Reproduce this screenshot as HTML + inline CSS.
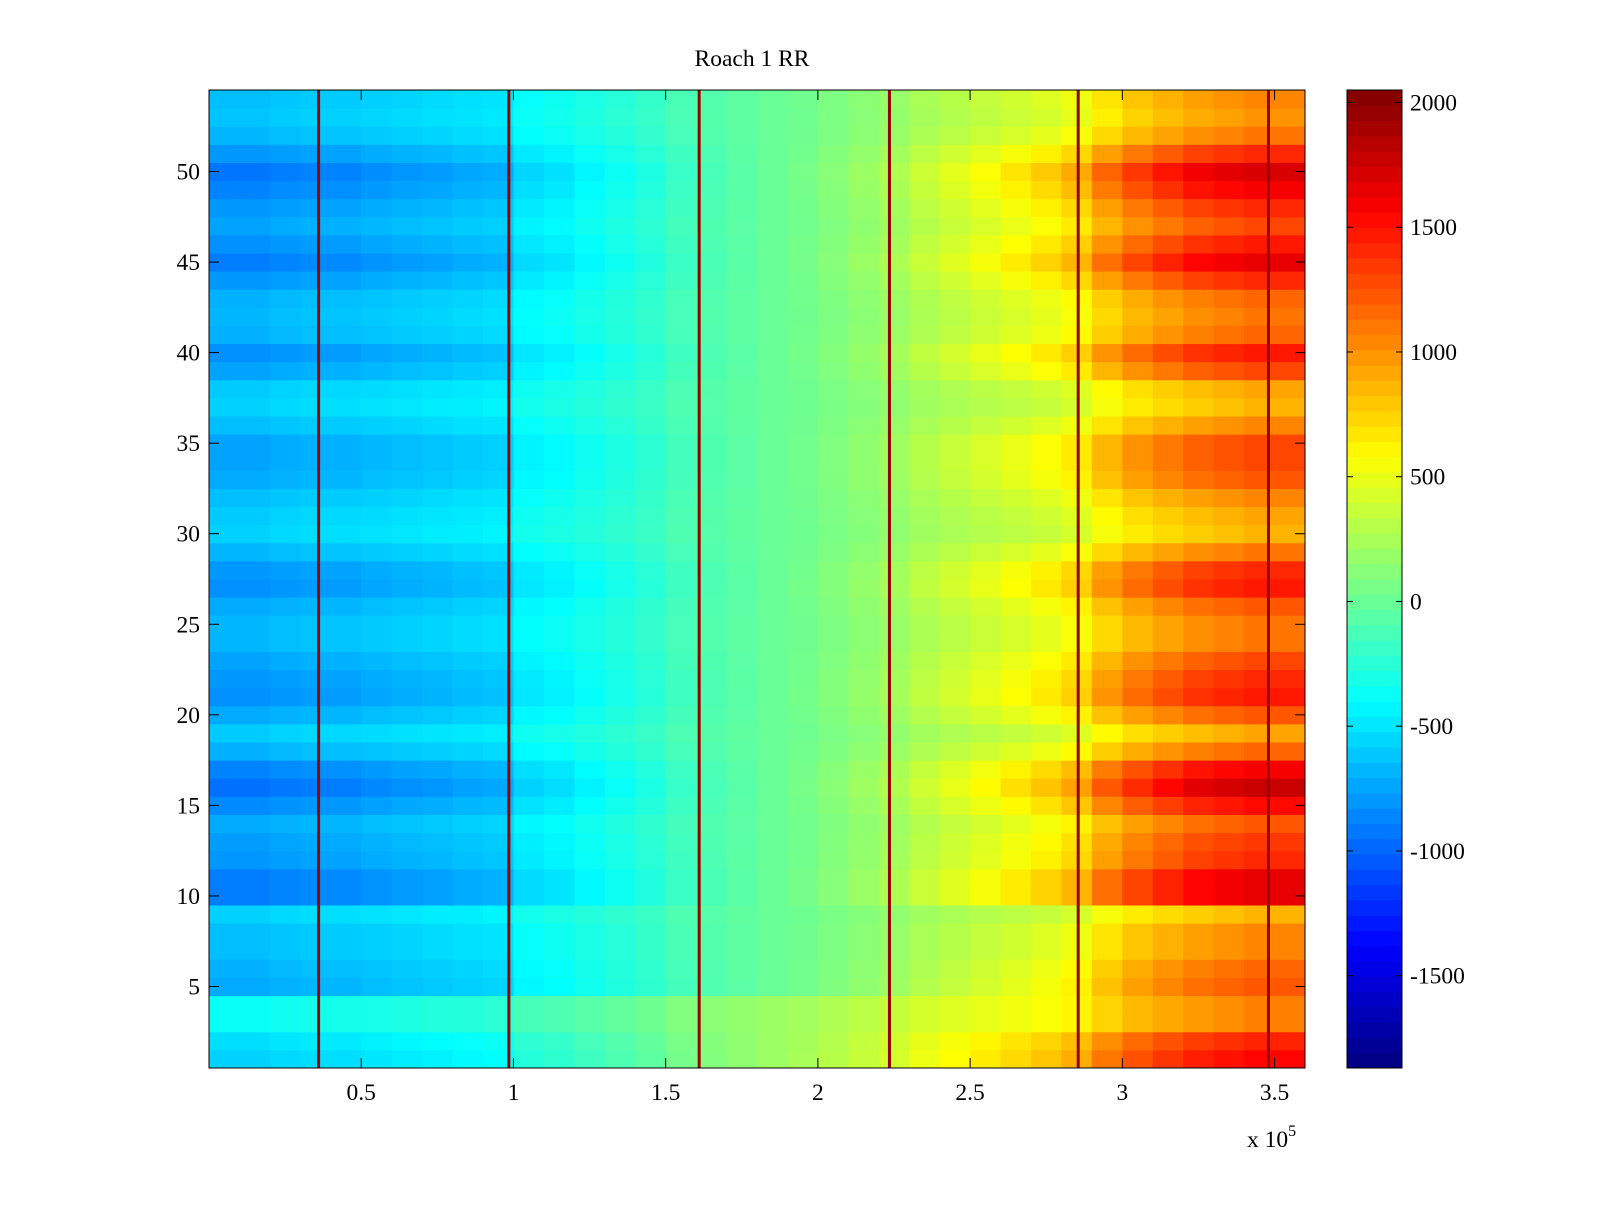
<!DOCTYPE html>
<html><head><meta charset="utf-8"><style>
html,body{margin:0;padding:0;background:#fff;}
svg text{font-family:"Liberation Serif",serif;font-size:23.5px;fill:#000;}
</style></head><body>
<svg id="chart" width="1600" height="1200" xmlns="http://www.w3.org/2000/svg">
<rect width="1600" height="1200" fill="#fff"/>
<g id="cells"></g>
<g id="stripes"></g>
<g id="cbar"></g>
<g id="axes"></g>
<text x="752" y="66" text-anchor="middle">Roach 1 RR</text>
<text x="1247" y="1147">x 10<tspan dy="-11" font-size="16">5</tspan></text>
</svg>
<script>
const binStarts = [0,0.1,0.2,0.3,0.4,0.5,0.6,0.7,0.8,0.9,1.0,1.1,1.2,1.3,1.4,1.5,1.6,1.7,1.8,1.9,2.0,2.1,2.2,2.3,2.4,2.5,2.6,2.7,2.8,2.9,3.0,3.1,3.2,3.3,3.4,3.5];
const colMean = [-650,-650,-620,-600,-600,-580,-560,-540,-520,-500,-380,-350,-300,-250,-200,-120,-80,-40,0,30,80,130,180,250,300,350,400,450,520,680,800,880,950,1000,1050,1050];
const colAmp = [-250,-250,-250,-250,-250,-230,-220,-220,-200,-200,-160,-150,-120,-100,-80,-60,-40,-20,0,20,40,60,80,120,160,200,250,300,350,450,500,550,600,600,600,600];
const rowDev = [0.5,0.3,-0.3,-0.3,0.3,0.2,0,0,-0.3,1.0,1.0,0.6,0.5,0.3,0.8,1.2,0.9,0.2,-0.2,0.3,0.7,0.6,0.4,0.1,0.1,0.3,0.7,0.6,0.1,-0.3,-0.2,0,0.3,0.4,0.4,0,-0.3,-0.2,0.4,0.7,0.2,0.1,0.2,0.6,1.0,0.7,0.4,0.6,0.9,1.1,0.6,0.1,-0.1,0];
const rowShift = [200,200,200,200,0,0,0,0,0,0,0,0,0,0,0,0,0,0,0,0,0,0,0,0,0,0,0,0,0,0,0,0,0,0,0,0,0,0,0,0,0,0,0,0,0,0,0,0,0,0,0,0,0,0];
const stripePos = [0.36,0.985,1.61,2.235,2.855,3.48];
const stripeVal = [1950,1950,1950,1950,1950,1950];
const xTicks = [0.5,1,1.5,2,2.5,3,3.5];
const xTickLabels = ["0.5","1","1.5","2","2.5","3","3.5"];
const yTicks = [5,10,15,20,25,30,35,40,45,50];
const cTicks = [2000,1500,1000,500,0,-500,-1000,-1500];

const X0=209,X1=1305,Y0=90,Y1=1068,XMIN=0,XMAX=3.6,YMIN=0.5,YMAX=54.5,CMIN=-1870,CMAX=2050;
const sx=v=>X0+(v-XMIN)/(XMAX-XMIN)*(X1-X0);
const sy=v=>Y1-(v-YMIN)/(YMAX-YMIN)*(Y1-Y0);
const CB0=1347,CB1=1402;
const sc=v=>Y1-(v-CMIN)/(CMAX-CMIN)*(Y1-Y0);
function jet(v){let t=(v-CMIN)/(CMAX-CMIN);t=Math.max(0,Math.min(1,t));
 const f=x=>Math.max(0,Math.min(1,x));
 const r=f(Math.min(4*t-1.5,-4*t+4.5)),g=f(Math.min(4*t-0.5,-4*t+3.5)),b=f(Math.min(4*t+0.5,-4*t+2.5));
 return `rgb(${Math.round(r*255)},${Math.round(g*255)},${Math.round(b*255)})`;}
const NS='http://www.w3.org/2000/svg';
function mk(tag,attrs,parent){const e=document.createElementNS(NS,tag);for(const k in attrs)e.setAttribute(k,attrs[k]);parent.appendChild(e);return e;}
const cells=document.getElementById('cells');
for(let r=0;r<rowDev.length;r++){for(let c=0;c<binStarts.length;c++){
 const x0=sx(binStarts[c]),x1=c+1<binStarts.length?sx(binStarts[c+1]):sx(XMAX);
 const v=colMean[c]+rowDev[r]*colAmp[c]+rowShift[r];
 const el=mk('rect',{x:x0,y:sy(r+1.5),width:x1-x0+0.5,height:sy(r+0.5)-sy(r+1.5)+0.5,fill:jet(v)},cells);
 
 
}}
const stripes=document.getElementById('stripes');
stripePos.forEach((p,i)=>{const el=mk('rect',{x:sx(p)-1.5,y:Y0,width:3,height:Y1-Y0,fill:jet(stripeVal[i])},stripes);
 
 });
const cb=document.getElementById('cbar');
for(let i=0;i<64;i++){const v0=CMIN+(CMAX-CMIN)*i/64,v1=CMIN+(CMAX-CMIN)*(i+1)/64;
 const el=mk('rect',{x:CB0,y:sc(v1),width:CB1-CB0,height:sc(v0)-sc(v1)+0.5,fill:jet((v0+v1)/2)},cb);
 
 }
mk('rect',{x:CB0,y:Y0,width:CB1-CB0,height:Y1-Y0,fill:'none',stroke:'#000','stroke-width':1},cb);
cTicks.forEach(t=>{const y=sc(t);
 mk('line',{x1:CB0,x2:CB0+6,y1:y,y2:y,stroke:'#000'},cb);
 mk('line',{x1:CB1-6,x2:CB1,y1:y,y2:y,stroke:'#000'},cb);
 const el=mk('text',{x:1410,y:y+8},cb);el.textContent=String(t);
 
 });
const ax=document.getElementById('axes');
mk('rect',{x:X0,y:Y0,width:X1-X0,height:Y1-Y0,fill:'none',stroke:'#000','stroke-width':1},ax);
xTicks.forEach((t,i)=>{const x=sx(t);
 mk('line',{x1:x,x2:x,y1:Y1,y2:Y1-10,stroke:'#000'},ax);
 mk('line',{x1:x,x2:x,y1:Y0,y2:Y0+10,stroke:'#000'},ax);
 const el=mk('text',{x:x,y:1100,'text-anchor':'middle'},ax);el.textContent=xTickLabels[i];
 
 });
yTicks.forEach(t=>{const y=sy(t);
 mk('line',{x1:X0,x2:X0+10,y1:y,y2:y,stroke:'#000'},ax);
 mk('line',{x1:X1-10,x2:X1,y1:y,y2:y,stroke:'#000'},ax);
 const el=mk('text',{x:200,y:y+8,'text-anchor':'end'},ax);el.textContent=String(t);
 
 });
</script>
</body></html>
